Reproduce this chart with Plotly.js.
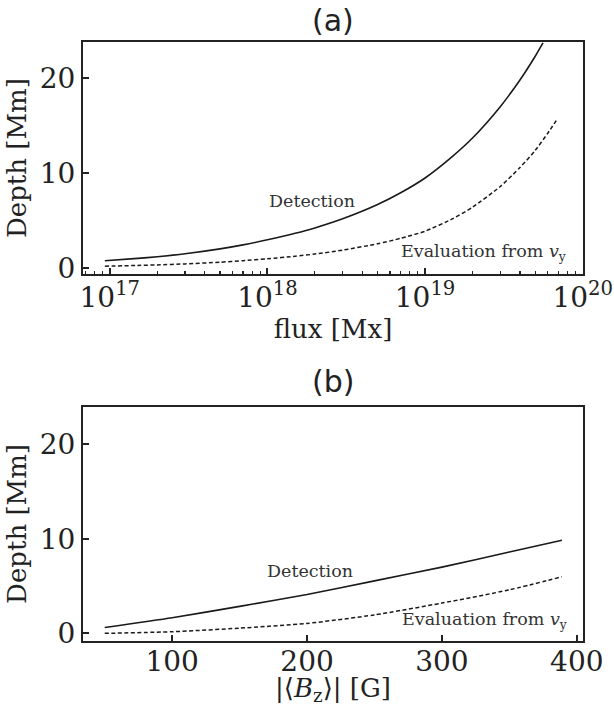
<!DOCTYPE html>
<html>
<head>
<meta charset="utf-8">
<script src="https://cdn.plot.ly/plotly-3.0.1.min.js"></script>
<style>html,body{margin:0;padding:0;background:#fff;}#chart{width:614px;height:706px;}</style>
</head>
<body>
<div id="chart"></div>
<script>
// (a) depth versus flux
const fluxA = [9.3e16, 1.5e17, 2e17, 3e17, 5e17, 7e17, 1e18, 1.5e18, 2e18, 3e18, 5e18, 7e18, 1e19, 1.5e19, 2e19, 3e19, 4e19, 5e19, 5.6e19];
const detectA = [0.80, 1.04, 1.22, 1.53, 2.04, 2.46, 3.0, 3.68, 4.24, 5.2, 6.7, 7.94, 9.5, 11.8, 13.7, 17.0, 19.8, 22.3, 23.7];
const fluxEvalA = [9.3e16, 1.5e17, 2e17, 3e17, 5e17, 7e17, 1e18, 1.5e18, 2e18, 3e18, 5e18, 7e18, 1e19, 1.5e19, 2e19, 3e19, 4e19, 5e19, 6e19, 6.9e19];
const evalA = [0.22, 0.30, 0.36, 0.46, 0.64, 0.80, 1.0, 1.27, 1.50, 1.91, 2.58, 3.15, 3.9, 5.22, 6.42, 8.6, 10.6, 12.4, 14.2, 15.7];

// (b) depth versus |<Bz>|
const bzB = [50, 100, 150, 200, 250, 300, 350, 389];
const detectB = [0.62, 1.65, 2.85, 4.1, 5.55, 7.0, 8.6, 9.85];
const evalB = [0.0, 0.17, 0.55, 1.05, 1.95, 3.2, 4.6, 5.98];

const ticksA = [17, 18, 19, 20];
const ticksB = [100, 200, 300, 400];
const ticksY = [0, 10, 20];

const serif = 'DejaVu Serif';
const ink = '#222';

const lineSolid = {color: '#1a1a1a', width: 1.6, shape: 'spline', smoothing: 0.6};
const lineDash = {color: '#1a1a1a', width: 1.5, dash: '4px,2.5px', shape: 'spline', smoothing: 0.6};

const traces = [
  {x: fluxA, y: detectA, mode: 'lines', line: lineSolid, xaxis: 'x', yaxis: 'y', hoverinfo: 'skip'},
  {x: fluxEvalA, y: evalA, mode: 'lines', line: lineDash, xaxis: 'x', yaxis: 'y', hoverinfo: 'skip'},
  {x: bzB, y: detectB, mode: 'lines', line: lineSolid, xaxis: 'x2', yaxis: 'y2', hoverinfo: 'skip'},
  {x: bzB, y: evalB, mode: 'lines', line: lineDash, xaxis: 'x2', yaxis: 'y2', hoverinfo: 'skip'}
];

const tickSize = 28;
const titleSize = 26;

const axBase = {
  showline: true, mirror: true, linewidth: 2, linecolor: ink,
  showgrid: false, zeroline: false,
  ticks: 'inside', ticklen: 6, tickwidth: 2, tickcolor: ink,
  tickfont: {family: serif, size: tickSize, color: ink}
};

// plot area spans pixels 42..686; panel frames at 41.7-274.3 and 407.3-640.7
const layout = {
  width: 614, height: 706,
  margin: {l: 83, r: 31, t: 42, b: 20},
  paper_bgcolor: '#fff', plot_bgcolor: '#fff',
  showlegend: false,
  xaxis: Object.assign({}, axBase, {
    type: 'log', range: [16.83, 20.002], anchor: 'y', domain: [0, 1],
    tickmode: 'array',
    tickvals: ticksA.map(p => Math.pow(10, p)),
    ticktext: ticksA.map(p => '10<sup>' + p + '</sup>'),
    ticklabelstandoff: -3,
    minor: {ticks: 'inside', ticklen: 3.5, tickwidth: 1.2, tickcolor: ink, dtick: 'D1', showgrid: false},
    title: {text: 'flux [Mx]', font: {family: serif, size: titleSize, color: ink}, standoff: 4}
  }),
  yaxis: Object.assign({}, axBase, {
    range: [-0.63, 23.8], anchor: 'x', domain: [0.6393, 1],
    tickvals: ticksY,
    title: {text: 'Depth [Mm]', font: {family: serif, size: titleSize, color: ink}, standoff: 6}
  }),
  xaxis2: Object.assign({}, axBase, {
    range: [33.9, 404.6], anchor: 'y2', domain: [0, 1],
    tickvals: ticksB,
    ticklabelstandoff: -5,
    title: {text: '|⟨<i>B</i><sub>z</sub>⟩| [G]', font: {family: serif, size: titleSize, color: ink}, standoff: 4}
  }),
  yaxis2: Object.assign({}, axBase, {
    range: [-0.78, 23.9], anchor: 'x2', domain: [0.0703, 0.4328],
    tickvals: ticksY,
    title: {text: 'Depth [Mm]', font: {family: serif, size: titleSize, color: ink}, standoff: 6}
  }),
  annotations: [
    {text: '(a)', xref: 'paper', yref: 'paper', x: 0.5, y: (686 - 20) / 644, xanchor: 'center', yanchor: 'middle', showarrow: false, font: {family: 'DejaVu Sans', size: 30, color: ink}},
    {text: '(b)', xref: 'paper', yref: 'paper', x: 0.5, y: (686 - 381) / 644, xanchor: 'center', yanchor: 'middle', showarrow: false, font: {family: 'DejaVu Sans', size: 30, color: ink}},
    {text: 'Detection', xref: 'x', yref: 'y', x: 18.28, y: 7.06, showarrow: false, font: {family: serif, size: 17.5, color: '#333'}},
    {text: 'Evaluation from <i>v</i><sub>y</sub>', xref: 'x', yref: 'y', x: 19.37, y: 1.71, showarrow: false, font: {family: serif, size: 17.5, color: '#333'}},
    {text: 'Detection', xref: 'x2', yref: 'y2', x: 202.4, y: 6.58, showarrow: false, font: {family: serif, size: 17.5, color: '#333'}},
    {text: 'Evaluation from <i>v</i><sub>y</sub>', xref: 'x2', yref: 'y2', x: 331.7, y: 1.40, showarrow: false, font: {family: serif, size: 17.5, color: '#333'}}
  ]
};

Plotly.newPlot('chart', traces, layout, {staticPlot: true, displayModeBar: false});
</script>
</body>
</html>
